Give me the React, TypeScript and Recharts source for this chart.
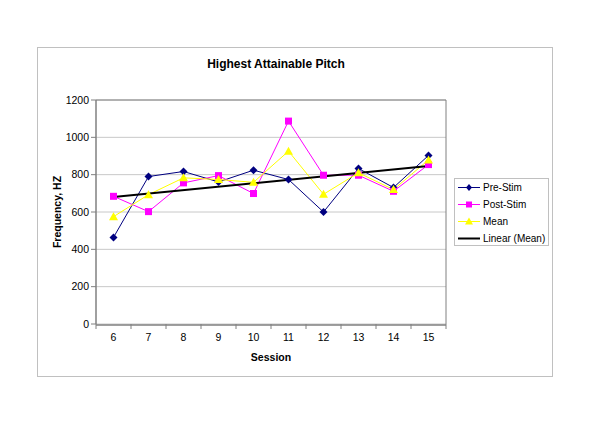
import {
  ComposedChart,
  Line,
  XAxis,
  YAxis,
  CartesianGrid,
} from "recharts";

const sessions = [6, 7, 8, 9, 10, 11, 12, 13, 14, 15];
const preStim = [464, 790, 817, 761, 824, 774, 600, 833, 731, 903];
const postStim = [684, 602, 756, 795, 699, 1087, 797, 797, 711, 854];
const meanVals = [575, 693, 783, 774, 759, 926, 695, 810, 720, 879];
// trendline read at first and last session only
const trendEnds = [681, 846];
const yTicks = [0, 200, 400, 600, 800, 1000, 1200];
const boundaryTicks = [5.5, 6.5, 7.5, 8.5, 9.5, 10.5, 11.5, 12.5, 13.5, 14.5, 15.5];

const data = sessions.map((s, i) => ({
  session: s,
  pre: preStim[i],
  post: postStim[i],
  mean: meanVals[i],
  trend: i === 0 ? trendEnds[0] : i === sessions.length - 1 ? trendEnds[1] : null,
}));

const FONT = "'Liberation Sans', Arial, sans-serif";
const NAVY = "#000080";
const MAGENTA = "#FF00FF";
const YELLOW = "#FFFF00";

function Diamond(p: any) {
  const { cx, cy } = p;
  if (cx == null || cy == null) return null;
  return (
    <path
      d={`M${cx},${cy - 4}L${cx + 4},${cy}L${cx},${cy + 4}L${cx - 4},${cy}Z`}
      fill={NAVY}
    />
  );
}

function Square(p: any) {
  const { cx, cy } = p;
  if (cx == null || cy == null) return null;
  return <rect x={cx - 3.5} y={cy - 3.5} width={7} height={7} fill={MAGENTA} />;
}

function Triangle(p: any) {
  const { cx, cy } = p;
  if (cx == null || cy == null) return null;
  return (
    <path
      d={`M${cx},${cy - 4.5}L${cx + 4.5},${cy + 3.5}L${cx - 4.5},${cy + 3.5}Z`}
      fill={YELLOW}
    />
  );
}

const legendItems = [
  { name: "Pre-Stim", color: NAVY, marker: "diamond", width: 1 },
  { name: "Post-Stim", color: MAGENTA, marker: "square", width: 1 },
  { name: "Mean", color: YELLOW, marker: "triangle", width: 1 },
  { name: "Linear (Mean)", color: "#000000", marker: "none", width: 2 },
];

function LegendMarker({ kind, color }: { kind: string; color: string }) {
  if (kind === "diamond") return <path d="M11,5L14,8.5L11,12L8,8.5Z" fill={color} />;
  if (kind === "square") return <rect x={8} y={5.5} width={6} height={6} fill={color} />;
  if (kind === "triangle") return <path d="M11,4.5L15,11.5L7,11.5Z" fill={color} />;
  return null;
}

export default function App() {
  return (
    <div
      style={{
        position: "absolute",
        left: 0,
        top: 0,
        width: 600,
        height: 436,
        background: "#fff",
        fontFamily: FONT,
      }}
    >
      {/* chart area frame */}
      <div
        style={{
          position: "absolute",
          left: 37,
          top: 47,
          width: 514,
          height: 328,
          border: "1px solid #c0c0c0",
        }}
      />

      <div
        style={{
          position: "absolute",
          left: 176,
          width: 200,
          top: 57,
          textAlign: "center",
          fontSize: 12,
          fontWeight: "bold",
          color: "#000",
        }}
      >
        Highest Attainable Pitch
      </div>

      <div
        style={{
          position: "absolute",
          left: 57,
          top: 212,
          transform: "translate(-50%, -50%) rotate(-90deg)",
          fontSize: 10.5,
          fontWeight: "bold",
          whiteSpace: "nowrap",
        }}
      >
        Frequency, HZ
      </div>

      <div
        style={{
          position: "absolute",
          left: 171,
          width: 200,
          top: 351,
          textAlign: "center",
          fontSize: 10.5,
          fontWeight: "bold",
        }}
      >
        Session
      </div>

      <div style={{ position: "absolute", left: 0, top: 0 }}>
        <ComposedChart
          width={600}
          height={436}
          data={data}
          margin={{ top: 99, right: 153, bottom: 110, left: 95 }}
        >
          <CartesianGrid
            horizontal
            vertical={false}
            stroke="#c8c8c8"
            yAxisId="y"
            xAxisId="x"
          />

          <XAxis
            xAxisId="x"
            type="number"
            dataKey="session"
            domain={[5.5, 15.5]}
            ticks={sessions}
            interval={0}
            tickLine={false}
            tickSize={5}
            tickMargin={4}
            axisLine={{ stroke: "#808080", strokeWidth: 1.5 }}
            tick={{ fontFamily: FONT, fontSize: 10.5, fill: "#000" }}
            height={1}
          />
          <XAxis
            xAxisId="ticks"
            type="number"
            dataKey="session"
            domain={[5.5, 15.5]}
            ticks={boundaryTicks}
            interval={0}
            tickFormatter={() => ""}
            axisLine={false}
            tickLine={{ stroke: "#808080" }}
            tickSize={5}
            height={1}
          />
          <XAxis
            xAxisId="top"
            orientation="top"
            type="number"
            dataKey="session"
            domain={[5.5, 15.5]}
            ticks={sessions}
            tick={false}
            tickLine={false}
            axisLine={{ stroke: "#808080" }}
            height={1}
          />
          <YAxis
            yAxisId="y"
            type="number"
            domain={[0, 1200]}
            ticks={yTicks}
            interval={0}
            tickSize={5}
            tickMargin={2}
            tickLine={{ stroke: "#808080" }}
            axisLine={{ stroke: "#808080", strokeWidth: 1.5 }}
            tick={{ fontFamily: FONT, fontSize: 10.5, fill: "#000" }}
            width={1}
          />
          <YAxis
            yAxisId="right"
            orientation="right"
            type="number"
            domain={[0, 1200]}
            ticks={yTicks}
            tick={false}
            tickLine={false}
            axisLine={{ stroke: "#808080" }}
            width={1}
          />

          <Line
            xAxisId="x"
            yAxisId="y"
            dataKey="pre"
            name="Pre-Stim"
            stroke={NAVY}
            strokeWidth={1}
            dot={<Diamond />}
            activeDot={false}
            isAnimationActive={false}
          />
          <Line
            xAxisId="x"
            yAxisId="y"
            dataKey="post"
            name="Post-Stim"
            stroke={MAGENTA}
            strokeWidth={1}
            dot={<Square />}
            activeDot={false}
            isAnimationActive={false}
          />
          <Line
            xAxisId="x"
            yAxisId="y"
            dataKey="mean"
            name="Mean"
            stroke={YELLOW}
            strokeWidth={1}
            dot={<Triangle />}
            activeDot={false}
            isAnimationActive={false}
          />
          <Line
            xAxisId="x"
            yAxisId="y"
            dataKey="trend"
            name="Linear (Mean)"
            stroke="#000"
            strokeWidth={2}
            connectNulls
            dot={false}
            activeDot={false}
            isAnimationActive={false}
          />
        </ComposedChart>
      </div>

      {/* legend */}
      <div
        style={{
          position: "absolute",
          left: 454,
          top: 178,
          width: 95,
          height: 68,
          border: "1px solid #c0c0c0",
          boxSizing: "border-box",
        }}
      >
        {legendItems.map((it) => (
          <div
            key={it.name}
            style={{
              display: "flex",
              alignItems: "center",
              height: 17,
              fontSize: 10,
              whiteSpace: "nowrap",
              paddingLeft: 3,
            }}
          >
            <svg width={25} height={17} style={{ flex: "none" }}>
              <line
                x1={0}
                x2={22}
                y1={8.5}
                y2={8.5}
                stroke={it.color}
                strokeWidth={it.width}
              />
              <LegendMarker kind={it.marker} color={it.color} />
            </svg>
            <span>{it.name}</span>
          </div>
        ))}
      </div>
    </div>
  );
}
